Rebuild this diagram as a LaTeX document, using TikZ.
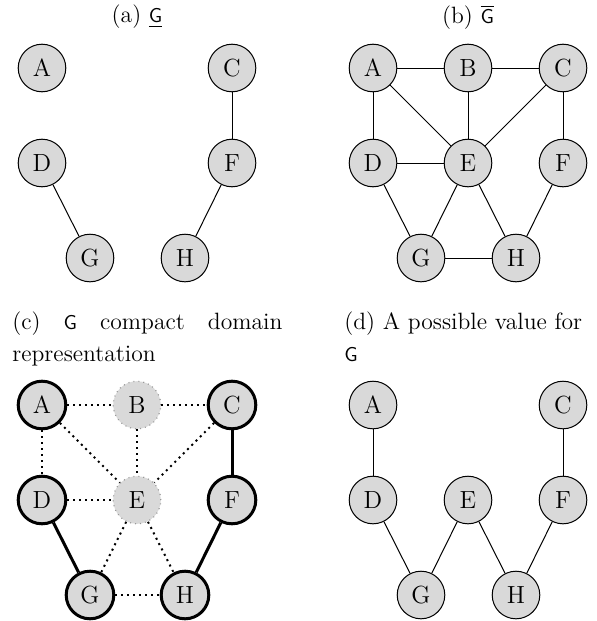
\documentclass[tikz,border=0pt]{standalone}
\newcommand{\gvar}{{\fontsize{10}{12}\sffamily G}}

\begin{document}
\begin{tikzpicture}[x=0.5pt,y=-0.5pt]
\tikzset{
  vnode/.style={circle,draw=black,fill=black!15,line width=0.5pt,minimum size=23.8pt,inner sep=0pt,font=\fontsize{12.4}{14}\selectfont},
  fixednode/.style={vnode,line width=1.5pt},
  freenode/.style={vnode,draw=black!40,dotted,line width=0.6pt},
  vedge/.style={draw=black,line width=0.5pt},
  fixededge/.style={draw=black,line width=1.5pt},
  freeedge/.style={draw=black,line width=1pt,dotted},
  subcap/.style={inner sep=0pt,font=\fontsize{11.8}{16}\selectfont}
}
\useasboundingbox (0,0) rectangle (597,621);
% captions
\node[subcap] (cap_a) at (137,17) {(a) \underline{\gvar}};
\node[subcap] (cap_b) at (468,17) {(b) $\overline{\mbox{\gvar}}$};
\node[subcap,anchor=north west,align=left] (cap_c) at (12,311) {\makebox[135pt][s]{(c)\ \gvar\ compact\ domain}\\representation};
\node[subcap,anchor=north west,align=left] (cap_d) at (344,311) {(d) A possible value for\\\gvar};
% (a)
\node[vnode] (a_A) at (42,68) {A};
\node[vnode] (a_C) at (232,68) {C};
\node[vnode] (a_D) at (42,163) {D};
\node[vnode] (a_F) at (232,163) {F};
\node[vnode] (a_G) at (90,258) {G};
\node[vnode] (a_H) at (185,258) {H};
\draw[vedge] (a_C) -- (a_F);
\draw[vedge] (a_D) -- (a_G);
\draw[vedge] (a_F) -- (a_H);
% (b)
\node[vnode] (b_A) at (373,68) {A};
\node[vnode] (b_B) at (468,68) {B};
\node[vnode] (b_C) at (563,68) {C};
\node[vnode] (b_D) at (373,163) {D};
\node[vnode] (b_E) at (468,163) {E};
\node[vnode] (b_F) at (563,163) {F};
\node[vnode] (b_G) at (421,258) {G};
\node[vnode] (b_H) at (516,258) {H};
\draw[vedge] (b_A) -- (b_B);
\draw[vedge] (b_B) -- (b_C);
\draw[vedge] (b_A) -- (b_D);
\draw[vedge] (b_A) -- (b_E);
\draw[vedge] (b_B) -- (b_E);
\draw[vedge] (b_C) -- (b_E);
\draw[vedge] (b_C) -- (b_F);
\draw[vedge] (b_D) -- (b_E);
\draw[vedge] (b_D) -- (b_G);
\draw[vedge] (b_E) -- (b_G);
\draw[vedge] (b_E) -- (b_H);
\draw[vedge] (b_F) -- (b_H);
\draw[vedge] (b_G) -- (b_H);
% (c)
\node[fixednode] (c_A) at (42,405) {A};
\node[freenode] (c_B) at (137,405) {B};
\node[fixednode] (c_C) at (232,405) {C};
\node[fixednode] (c_D) at (42,500) {D};
\node[freenode] (c_E) at (137,500) {E};
\node[fixednode] (c_F) at (232,500) {F};
\node[fixednode] (c_G) at (90,595) {G};
\node[fixednode] (c_H) at (185,595) {H};
\draw[freeedge] (c_A) -- (c_B);
\draw[freeedge] (c_B) -- (c_C);
\draw[freeedge] (c_A) -- (c_D);
\draw[freeedge] (c_A) -- (c_E);
\draw[freeedge] (c_B) -- (c_E);
\draw[freeedge] (c_C) -- (c_E);
\draw[freeedge] (c_D) -- (c_E);
\draw[freeedge] (c_E) -- (c_G);
\draw[freeedge] (c_E) -- (c_H);
\draw[freeedge] (c_G) -- (c_H);
\draw[fixededge] (c_C) -- (c_F);
\draw[fixededge] (c_D) -- (c_G);
\draw[fixededge] (c_F) -- (c_H);
% (d)
\node[vnode] (d_A) at (373,405) {A};
\node[vnode] (d_C) at (563,405) {C};
\node[vnode] (d_D) at (373,500) {D};
\node[vnode] (d_E) at (468,500) {E};
\node[vnode] (d_F) at (563,500) {F};
\node[vnode] (d_G) at (421,595) {G};
\node[vnode] (d_H) at (516,595) {H};
\draw[vedge] (d_A) -- (d_D);
\draw[vedge] (d_C) -- (d_F);
\draw[vedge] (d_D) -- (d_G);
\draw[vedge] (d_E) -- (d_G);
\draw[vedge] (d_E) -- (d_H);
\draw[vedge] (d_F) -- (d_H);
\end{tikzpicture}
\end{document}
